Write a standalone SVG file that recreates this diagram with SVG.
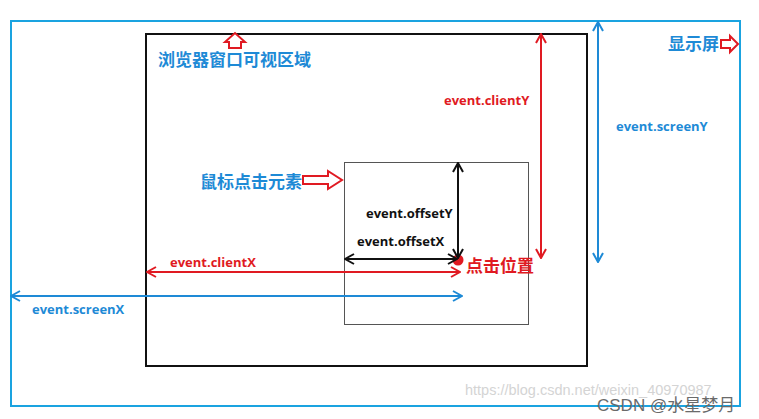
<svg xmlns="http://www.w3.org/2000/svg" width="759" height="419" viewBox="0 0 759 419">
<style>
.en{font-family:"Open Sans","Liberation Sans",sans-serif;font-weight:bold;font-size:13px}
.zh{font-family:"Noto Sans CJK SC",sans-serif;font-weight:bold;font-size:17px}
.blue{fill:#1e8ad6}
.red{fill:#e01a22}
.blk{fill:#111}
.hollow{fill:#fff;stroke:#e01a22;stroke-width:2;stroke-linejoin:miter}
</style>
<defs>
<marker id="mr" viewBox="0 0 12 12" refX="11" refY="6" markerWidth="12" markerHeight="12" markerUnits="userSpaceOnUse" orient="auto-start-reverse"><polyline points="2,1 11,6 2,11" fill="none" stroke="#e01a22" stroke-width="2"/></marker>
<marker id="mb" viewBox="0 0 12 12" refX="11" refY="6" markerWidth="12" markerHeight="12" markerUnits="userSpaceOnUse" orient="auto-start-reverse"><polyline points="2,1 11,6 2,11" fill="none" stroke="#1e8ad6" stroke-width="2"/></marker>
<marker id="mk" viewBox="0 0 12 12" refX="11" refY="6" markerWidth="12" markerHeight="12" markerUnits="userSpaceOnUse" orient="auto-start-reverse"><polyline points="2,1 11,6 2,11" fill="none" stroke="#111" stroke-width="2"/></marker>
</defs>
<rect width="759" height="419" fill="#fff"/>
<g id="screen">
<rect x="11" y="21" width="729" height="385" fill="none" stroke="#1aa3e0" stroke-width="2"/>
<text class="zh blue" x="668" y="50">显示屏</text>
<polygon class="hollow" points="721,40 730,40 730,36 738,44 730,52 730,48 721,48"/>
</g>
<g id="browser">
<rect x="146" y="34" width="441" height="332" fill="none" stroke="#111" stroke-width="2"/>
<polygon class="hollow" points="229,48 229,42 225,42 235,33 245,42 241,42 241,48"/>
<text class="zh blue" x="158" y="66">浏览器窗口可视区域</text>
</g>
<g id="element">
<rect x="344.5" y="162.5" width="184" height="162" fill="none" stroke="#555" stroke-width="1"/>
<text class="zh blue" x="200" y="188">鼠标点击元素</text>
<polygon class="hollow" points="303,176 328,176 328,171 342,180 328,189 328,184 303,184"/>
</g>
<g id="click">
<circle cx="458" cy="260" r="5.5" fill="#e01a22"/>
<text class="zh red" x="466" y="272">点击位置</text>
</g>
<g id="connectors" fill="none" stroke-width="2">
<line x1="541" y1="34" x2="541" y2="258" stroke="#e01a22" marker-start="url(#mr)" marker-end="url(#mr)"/>
<line x1="598" y1="22" x2="598" y2="262" stroke="#1e8ad6" marker-start="url(#mb)" marker-end="url(#mb)"/>
<line x1="147" y1="272" x2="460" y2="272" stroke="#e01a22" marker-start="url(#mr)" marker-end="url(#mr)"/>
<line x1="11" y1="296" x2="462" y2="296" stroke="#1e8ad6" marker-start="url(#mb)" marker-end="url(#mb)"/>
<line x1="458" y1="163" x2="458" y2="258" stroke="#111" marker-start="url(#mk)" marker-end="url(#mk)"/>
<line x1="345" y1="259" x2="457" y2="259" stroke="#111" marker-start="url(#mk)" marker-end="url(#mk)"/>
</g>
<g id="labels">
<text class="en red" x="444" y="105">event.clientY</text>
<text class="en blue" x="616" y="131">event.screenY</text>
<text class="en blk" x="366" y="218">event.offsetY</text>
<text class="en blk" x="357" y="246">event.offsetX</text>
<text class="en red" x="170" y="267">event.clientX</text>
<text class="en blue" x="32" y="314">event.screenX</text>
</g>
<g id="watermark">
<text x="465" y="395" font-family="Liberation Sans,sans-serif" font-size="14.5" fill="#d4d4d4">https://blog.csdn.net/weixin_40970987</text>
<text x="597" y="411" font-family="Liberation Sans,'Noto Sans CJK SC',sans-serif" font-size="17" fill="#6a6a6a">CSDN @水星梦月</text>
</g>
</svg>
